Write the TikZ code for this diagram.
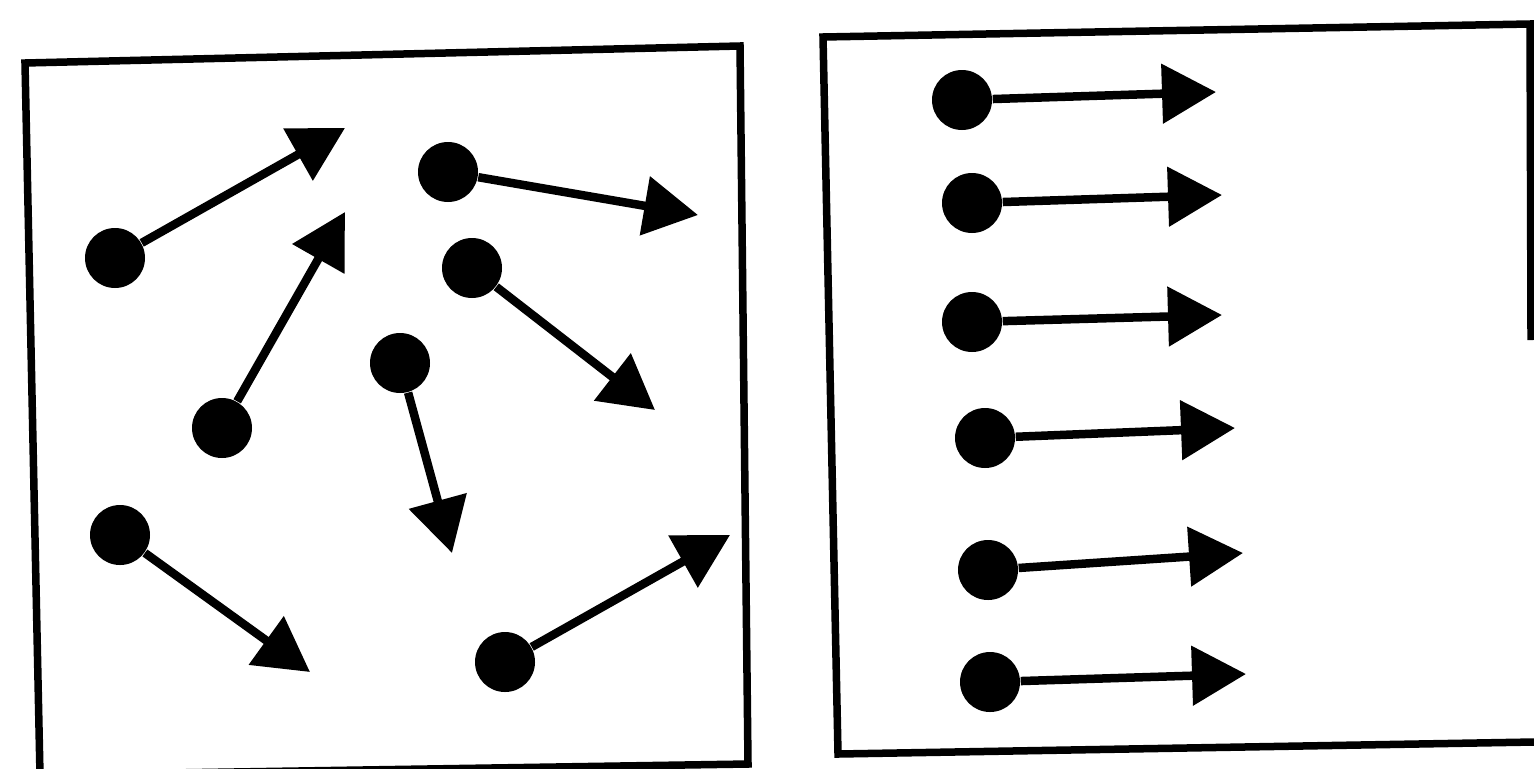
\documentclass[tikz,border=0pt]{standalone}
\usetikzlibrary{arrows.meta}
\begin{document}
\begin{tikzpicture}[y=-1cm]
        \tikzstyle{every node}=[fill,shape=circle,inner sep=0pt,minimum size=6mm];
        \tikzstyle{vec}=[line width=0.85mm,-{Triangle[length=5.4mm,width=5.8mm]}];
        \useasboundingbox (0,0) rectangle (15.34,7.68);
        % boxes
        \draw[line width=0.75mm] (0.40,7.75)--(0.25,0.63)--(7.40,0.46)--(7.48,7.64)--cycle;
        \draw[line width=0.75mm] (15.34,7.42)--(8.38,7.54)--(8.23,0.37)--(15.30,0.24)--(15.31,3.40);
        % disordered
        \node (a1) at (1.15,2.58) {};
        \node (a2) at (4.48,1.72) {};
        \node (a3) at (2.22,4.28) {};
        \node (a4) at (4.72,2.68) {};
        \node (a5) at (4.00,3.63) {};
        \node (a6) at (1.20,5.35) {};
        \node (a7) at (5.05,6.62) {};
        \coordinate (ta1) at (3.45,1.28);
        \coordinate (ta2) at (6.98,2.15);
        \coordinate (ta3) at (3.45,2.12);
        \coordinate (ta4) at (6.55,4.10);
        \coordinate (ta5) at (4.52,5.53);
        \coordinate (ta6) at (3.10,6.72);
        \coordinate (ta7) at (7.30,5.35);
        \draw[vec] (a1)--(ta1);
        \draw[vec] (a2)--(ta2);
        \draw[vec] (a3)--(ta3);
        \draw[vec] (a4)--(ta4);
        \draw[vec] (a5)--(ta5);
        \draw[vec] (a6)--(ta6);
        \draw[vec] (a7)--(ta7);
        % aligned
        \node (b1) at (9.62,1.00) {};
        \node (b2) at (9.72,2.03) {};
        \node (b3) at (9.72,3.22) {};
        \node (b4) at (9.85,4.38) {};
        \node (b5) at (9.88,5.70) {};
        \node (b6) at (9.90,6.82) {};
        \coordinate (tb1) at (12.16,0.92);
        \coordinate (tb2) at (12.22,1.95);
        \coordinate (tb3) at (12.22,3.15);
        \coordinate (tb4) at (12.35,4.28);
        \coordinate (tb5) at (12.43,5.53);
        \coordinate (tb6) at (12.46,6.74);
        \draw[vec] (b1)--(tb1);
        \draw[vec] (b2)--(tb2);
        \draw[vec] (b3)--(tb3);
        \draw[vec] (b4)--(tb4);
        \draw[vec] (b5)--(tb5);
        \draw[vec] (b6)--(tb6);
    \end{tikzpicture}
\end{document}
